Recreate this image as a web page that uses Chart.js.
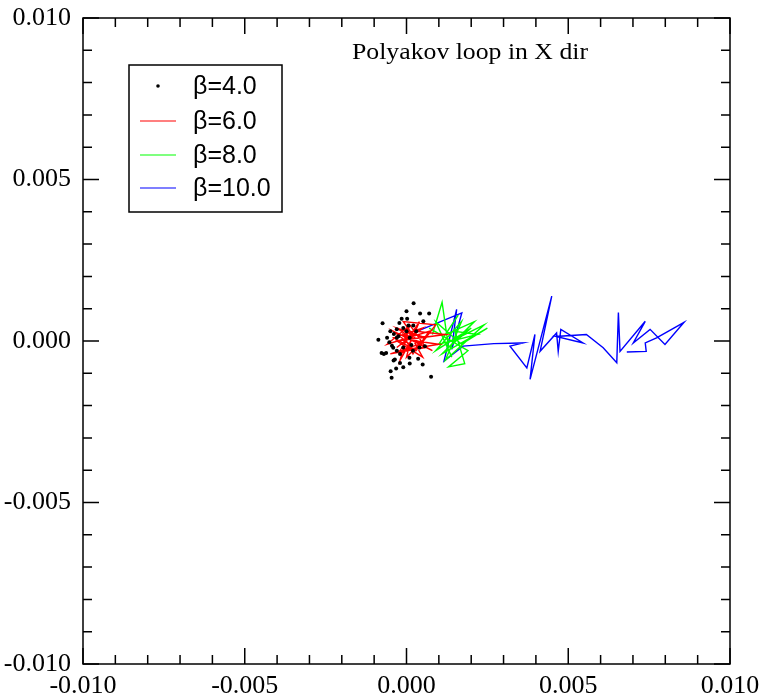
<!DOCTYPE html>
<html>
<head>
<meta charset="utf-8">
<script src="https://cdn.jsdelivr.net/npm/chart.js@4"></script>
<style>
  html, body { margin: 0; padding: 0; background: #fff; }
  #wrap { width: 761px; height: 696px; }
</style>
</head>
<body>
<div id="wrap"><canvas id="polyakovChart"></canvas></div>
<script>
// beta = 4.0 : scattered points
var beta4 = [
  [0.00022, 0.00117], [-0.00074, 0.00055], [-0.00087, 0.00004], [-0.00077, -0.00037],
  [-0.00063, -0.00037], [-0.00049, -0.00094], [-0.00046, -0.00114], [-0.00032, -0.00085],
  [-0.00010, -0.00081], [0.00076, -0.00111], [0.00050, -0.00073], [0.00042, 0.00085],
  [0.00070, 0.00085], [0.00000, 0.00092], [-0.00015, 0.00069], [-0.00022, 0.00056],
  [0.00002, 0.00069], [-0.00030, 0.00036], [-0.00039, 0.00022], [-0.00053, -0.00004],
  [-0.00041, -0.00021], [-0.00036, -0.00057], [-0.00020, -0.00068], [0.00009, -0.00052],
  [0.00036, -0.00055], [0.00057, -0.00016], [0.00006, 0.00048], [0.00021, 0.00048],
  [0.00052, 0.00061], [-0.00030, 0.00010], [-0.00010, -0.00020], [0.00010, 0.00010],
  [-0.00050, 0.00030], [-0.00020, -0.00040], [0.00020, -0.00030], [-0.00040, -0.00060],
  [0.00030, 0.00030], [-0.00060, 0.00010], [0.00010, -0.00070], [-0.00030, -0.00030],
  [0.00000, 0.00030], [-0.00070, -0.00040], [0.00040, -0.00020], [-0.00010, 0.00040],
  [-0.00025, 0.00015], [0.00015, -0.00012], [-0.00045, -0.00015]
];
// beta = 6.0 : red path
var beta6 = [
  [0.00020, 0.00020], [-0.00030, -0.00020], [0.00050, 0.00040], [-0.00040, 0.00010],
  [0.00030, -0.00030], [0.00090, 0.00050], [-0.00010, 0.00060], [0.00040, -0.00010],
  [-0.00050, -0.00040], [0.00060, -0.00020], [0.00010, 0.00050], [-0.00020, -0.00060],
  [0.00030, 0.00030], [0.00120, 0.00020], [-0.00030, 0.00000], [0.00050, -0.00050],
  [0.00000, 0.00040], [-0.00060, -0.00010], [0.00070, 0.00030], [0.00020, -0.00040],
  [-0.00010, 0.00020], [0.00080, -0.00030], [-0.00040, 0.00030], [0.00010, -0.00010],
  [0.00040, 0.00060], [-0.00020, -0.00030], [0.00100, -0.00010], [0.00030, 0.00000],
  [-0.00030, 0.00040], [0.00060, 0.00010], [0.00000, -0.00050], [0.00020, 0.00030]
];
// beta = 8.0 : green path
var beta8 = [
  [0.00080, 0.00020], [0.00110, 0.00120], [0.00130, -0.00020], [0.00200, 0.00040],
  [0.00090, -0.00030], [0.00170, 0.00060], [0.00120, -0.00060], [0.00240, 0.00050],
  [0.00140, 0.00000], [0.00070, 0.00040], [0.00190, -0.00030], [0.00130, -0.00080],
  [0.00180, -0.00070], [0.00150, 0.00030], [0.00220, 0.00020], [0.00100, -0.00010],
  [0.00160, 0.00080], [0.00120, 0.00020], [0.00210, 0.00060], [0.00110, -0.00040],
  [0.00250, 0.00040], [0.00170, -0.00010], [0.00090, 0.00060], [0.00140, -0.00050]
];
// beta = 10.0 : blue path
var beta10 = [
  [0.00032, 0.00030], [0.00171, 0.00087], [0.00140, -0.00026], [0.00155, 0.00098],
  [0.00116, -0.00062], [0.00175, -0.00016], [0.00270, -0.00008], [0.00361, -0.00006],
  [0.00320, -0.00016], [0.00372, -0.00083], [0.00397, 0.00020], [0.00382, -0.00119],
  [0.00449, 0.00139], [0.00413, -0.00032], [0.00464, 0.00025], [0.00469, -0.00032],
  [0.00477, 0.00036], [0.00546, -0.00006], [0.00462, 0.00014], [0.00556, 0.00020],
  [0.00608, -0.00021], [0.00650, -0.00067], [0.00655, 0.00088], [0.00660, -0.00032],
  [0.00738, 0.00061], [0.00701, -0.00006], [0.00753, 0.00036], [0.00799, -0.00011],
  [0.00858, 0.00058], [0.00773, 0.00010], [0.00738, -0.00006], [0.00741, -0.00032],
  [0.00681, -0.00034]
];

var seriesNames = ["\u03b2=4.0", "\u03b2=6.0", "\u03b2=8.0", "\u03b2=10.0"];
var seriesColors = ["#000000", "#ff0000", "#00ff00", "#0000ff"];
var axisMin = -0.010;
var axisMax = 0.010;
var majorStep = 0.005;
var minorStep = 0.001;
var titleText = "Polyakov loop in X dir";

function toXY(arr) {
  return arr.map(function (p) { return { x: p[0], y: p[1] }; });
}

function tickLabel(v) {
  return (Math.abs(v) < 1e-12 ? 0 : v).toFixed(3);
}

function majorTicks(scale) {
  var t = [];
  for (var v = axisMin; v <= axisMax + 1e-9; v += majorStep) t.push({ value: v });
  scale.ticks = t;
}

// frame with inward major/minor ticks on all four sides, title, legend
var framePlugin = {
  id: "frame",
  afterDatasetsDraw: function (chart) {
    var ctx = chart.ctx;
    var a = chart.chartArea;
    var xs = chart.scales.x;
    var ys = chart.scales.y;
    ctx.save();
    ctx.strokeStyle = "#000";
    ctx.lineWidth = 1.5;
    ctx.strokeRect(a.left, a.top, a.right - a.left, a.bottom - a.top);
    ctx.beginPath();
    var n = Math.round((axisMax - axisMin) / minorStep);
    var every = Math.round(majorStep / minorStep);
    for (var i = 0; i <= n; i++) {
      var v = axisMin + i * minorStep;
      var len = i % every === 0 ? 16 : 9;
      var px = xs.getPixelForValue(v);
      var py = ys.getPixelForValue(v);
      ctx.moveTo(px, a.bottom); ctx.lineTo(px, a.bottom - len);
      ctx.moveTo(px, a.top); ctx.lineTo(px, a.top + len);
      ctx.moveTo(a.left, py); ctx.lineTo(a.left + len, py);
      ctx.moveTo(a.right, py); ctx.lineTo(a.right - len, py);
    }
    ctx.stroke();

    // title inside the plot (stretched a little to match the original)
    ctx.fillStyle = "#000";
    ctx.font = "23px 'Liberation Serif', serif";
    ctx.textAlign = "left";
    ctx.textBaseline = "alphabetic";
    var tw = ctx.measureText(titleText).width;
    ctx.save();
    ctx.translate(352, 59);
    ctx.scale(236 / tw, 1);
    ctx.fillText(titleText, 0, 0);
    ctx.restore();

    // legend box
    ctx.lineWidth = 1.5;
    ctx.strokeStyle = "#000";
    ctx.strokeRect(129, 65, 153, 147);
    ctx.font = "25px 'Liberation Sans', Arial, sans-serif";
    var rowY = [86, 121, 155, 188];
    for (var k = 0; k < seriesNames.length; k++) {
      ctx.strokeStyle = seriesColors[k];
      ctx.fillStyle = seriesColors[k];
      if (k === 0) {
        ctx.beginPath();
        ctx.arc(158, rowY[k], 1.8, 0, Math.PI * 2);
        ctx.fill();
      } else {
        ctx.lineWidth = 1.2;
        ctx.beginPath();
        ctx.moveTo(140, rowY[k]);
        ctx.lineTo(176, rowY[k]);
        ctx.stroke();
      }
      ctx.fillStyle = "#000";
      ctx.fillText(seriesNames[k], 193, rowY[k] + 8);
    }
    ctx.restore();
  }
};

var ctxPoly = document.getElementById("polyakovChart").getContext("2d");
var polyChart = new Chart(ctxPoly, {
  type: "scatter",
  data: {
    datasets: [
      {
        label: seriesNames[0],
        data: toXY(beta4),
        backgroundColor: seriesColors[0],
        borderColor: seriesColors[0],
        pointRadius: 2,
        borderWidth: 0,
        showLine: false,
      },
      {
        label: seriesNames[1],
        data: toXY(beta6),
        borderColor: seriesColors[1],
        borderWidth: 1.4,
        pointRadius: 0,
        showLine: true,
        tension: 0,
      },
      {
        label: seriesNames[2],
        data: toXY(beta8),
        borderColor: seriesColors[2],
        borderWidth: 1.4,
        pointRadius: 0,
        showLine: true,
        tension: 0,
      },
      {
        label: seriesNames[3],
        data: toXY(beta10),
        borderColor: seriesColors[3],
        borderWidth: 1.4,
        pointRadius: 0,
        showLine: true,
        tension: 0,
      },
    ],
  },
  options: {
    responsive: true,
    maintainAspectRatio: false,
    animation: false,
    layout: { padding: { top: 18, right: 31, left: 0, bottom: 0 } },
    scales: {
      x: {
        type: "linear",
        min: axisMin,
        max: axisMax,
        afterFit: function (scale) {
          scale.height = 32;
          scale.paddingLeft = 0;
          scale.paddingRight = 0;
        },
        afterBuildTicks: majorTicks,
        grid: { display: false },
        border: { display: false },
        ticks: {
          color: "#000",
          padding: 1,
          maxRotation: 0,
          autoSkip: false,
          font: { family: "'Liberation Serif', serif", size: 26, lineHeight: 1 },
          callback: tickLabel,
        },
      },
      y: {
        type: "linear",
        min: axisMin,
        max: axisMax,
        afterFit: function (scale) {
          scale.width = 83;
          scale.paddingTop = 0;
          scale.paddingBottom = 0;
        },
        afterBuildTicks: majorTicks,
        grid: { display: false },
        border: { display: false },
        ticks: {
          color: "#000",
          padding: 4,
          autoSkip: false,
          font: { family: "'Liberation Serif', serif", size: 26 },
          callback: tickLabel,
        },
      },
    },
    plugins: {
      legend: { display: false },
      title: { display: false },
      tooltip: { enabled: false },
    },
  },
  plugins: [framePlugin],
});
</script>
</body>
</html>
